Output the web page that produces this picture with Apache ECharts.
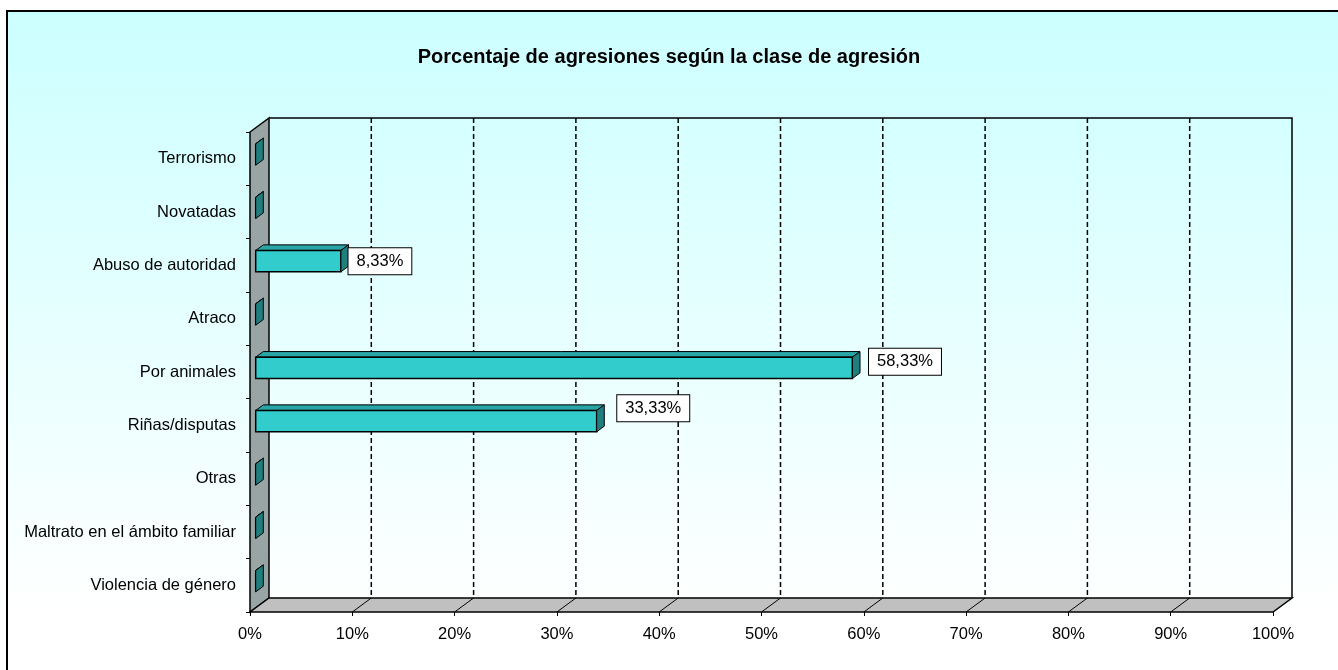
<!DOCTYPE html>
<html>
<head>
<meta charset="utf-8">
<script src="https://cdn.jsdelivr.net/npm/echarts@6/dist/echarts.min.js"></script>
<style>
  html, body { margin: 0; padding: 0; background: #ffffff; }
  #chart { width: 1338px; height: 670px; }
</style>
</head>
<body>
<div id="chart"></div>
<script>
// ---- data ----
const chartTitle = 'Porcentaje de agresiones según la clase de agresión';
const categories = ['Terrorismo', 'Novatadas', 'Abuso de autoridad', 'Atraco', 'Por animales',
  'Riñas/disputas', 'Otras', 'Maltrato en el ámbito familiar', 'Violencia de género'];
const values = [0, 0, 8.33, 0, 58.33, 33.33, 0, 0, 0];
const xTickValues = [0, 10, 20, 30, 40, 50, 60, 70, 80, 90, 100];

// ---- style ----
const FONT = 'Arial, "Liberation Sans", sans-serif';
const FS = 16.5;
const DX = 19, DY = -14;          // 3D depth offset of back wall
const BAR_FRONT = 0.3;            // bar front plane position within depth
const BAR_DEPTH = 0.4;            // bar thickness within depth
const BAR_H = 0.4;                // bar height as fraction of band
const labelShift = { 2: [0, 0], 4: [9, -6], 5: [13, -13] };

const fmt = v => v.toFixed(2).replace('.', ',') + '%';

const chart = echarts.init(document.getElementById('chart'));

function renderWalls(params, api) {
  const cs = params.coordSys;
  const x0 = cs.x, x1 = cs.x + cs.width, yT = cs.y, yB = cs.y + cs.height;
  const children = [];
  children.push({
    type: 'polygon',
    shape: { points: [[x0, yT], [x0 + DX, yT + DY], [x0 + DX, yB + DY], [x0, yB]] },
    style: { fill: '#99A4A4', stroke: '#000', lineWidth: 1.5 }
  });
  children.push({
    type: 'polygon',
    shape: { points: [[x0, yB], [x0 + DX, yB + DY], [x1 + DX, yB + DY], [x1, yB]] },
    style: { fill: '#C0C0C0', stroke: '#000', lineWidth: 1.5 }
  });
  children.push({
    type: 'polyline',
    shape: { points: [[x0 + DX, yT + DY], [x1 + DX, yT + DY], [x1 + DX, yB + DY]] },
    style: { fill: null, stroke: '#000', lineWidth: 1.5 }
  });
  xTickValues.forEach(v => {
    if (v === xTickValues[0] || v === xTickValues[xTickValues.length - 1]) return;
    const x = api.coord([v, 0])[0];
    children.push({
      type: 'line',
      shape: { x1: x + DX, y1: yT + DY, x2: x + DX, y2: yB + DY },
      style: { stroke: '#000', lineWidth: 1.5, lineDash: [5, 3] }
    });
    children.push({
      type: 'line',
      shape: { x1: x, y1: yB, x2: x + DX, y2: yB + DY },
      style: { stroke: '#000', lineWidth: 1 }
    });
  });
  return { type: 'group', children: children };
}

function renderBar(params, api) {
  const v = api.value(0);
  const c = api.value(1);
  const start = api.coord([0, c]);
  const end = api.coord([v, c]);
  const band = api.size([0, 1])[1];
  const h = band * BAR_H;
  const fx = DX * BAR_FRONT, fy = DY * BAR_FRONT;
  const dx = DX * BAR_DEPTH, dy = DY * BAR_DEPTH;
  const xa = start[0] + fx, xb = end[0] + fx;
  const yc = start[1] + fy;
  const top = yc - h / 2, bot = yc + h / 2;
  const children = [
    { type: 'polygon',
      shape: { points: [[xa, top], [xb, top], [xb + dx, top + dy], [xa + dx, top + dy]] },
      style: { fill: '#2AA5A5', stroke: '#000', lineWidth: 1 } },
    { type: 'rect',
      shape: { x: xa, y: top, width: xb - xa, height: h },
      style: { fill: '#33CCCC', stroke: '#000', lineWidth: 1.5 } },
    { type: 'polygon',
      shape: { points: [[xb, top], [xb + dx, top + dy], [xb + dx, bot + dy], [xb, bot]] },
      style: { fill: '#1F7F7F', stroke: '#000', lineWidth: 1 } }
  ];
  if (v > 0) {
    const s = labelShift[c] || [6, 0];
    children.push({
      type: 'text',
      style: {
        text: fmt(v),
        x: xb + dx + s[0], y: yc + s[1],
        align: 'left', verticalAlign: 'middle',
        font: FS + 'px ' + FONT, fill: '#000',
        backgroundColor: '#ffffff', borderColor: '#000', borderWidth: 1,
        padding: [5, 8, 4, 8]
      }
    });
  }
  return { type: 'group', children: children };
}

const option = {
  backgroundColor: '#ffffff',
  animation: false,
  textStyle: { fontFamily: FONT },
  graphic: [{
    type: 'rect', z: -10, silent: true,
    shape: { x: 7, y: 11, width: 1345, height: 670 },
    style: {
      fill: new echarts.graphic.LinearGradient(0, 0, 0, 1, [
        { offset: 0, color: '#CCFFFF' },
        { offset: 0.9, color: '#FFFFFF' },
        { offset: 1, color: '#FFFFFF' }
      ]),
      stroke: '#000', lineWidth: 2
    }
  }],
  title: {
    text: chartTitle,
    left: 'center', top: 42,
    textStyle: { fontFamily: FONT, fontSize: 20, fontWeight: 'bold', color: '#000' }
  },
  grid: { left: 250, right: 65, top: 132, bottom: 58, containLabel: false },
  xAxis: {
    type: 'value', min: 0, max: 100, interval: 10,
    axisLine: { show: false },
    axisTick: { show: true, length: 4, lineStyle: { color: '#000', width: 1 } },
    splitLine: { show: false },
    axisLabel: { formatter: '{value}%', fontSize: FS, color: '#000', fontFamily: FONT, margin: 14 }
  },
  yAxis: {
    type: 'category', inverse: true, data: categories,
    axisLine: { show: false },
    axisTick: { show: true, length: 4, lineStyle: { color: '#000', width: 1 } },
    splitLine: { show: false },
    axisLabel: { fontSize: FS, color: '#000', fontFamily: FONT, margin: 14 }
  },
  series: [
    { type: 'custom', z: 1, silent: true, renderItem: renderWalls, data: [[0, 0]],
      encode: { x: 0, y: 1 } },
    { type: 'custom', z: 2, silent: true, renderItem: renderBar,
      data: values.map((v, i) => [v, i]), encode: { x: 0, y: 1 } }
  ]
};
chart.setOption(option);
</script>
</body>
</html>
